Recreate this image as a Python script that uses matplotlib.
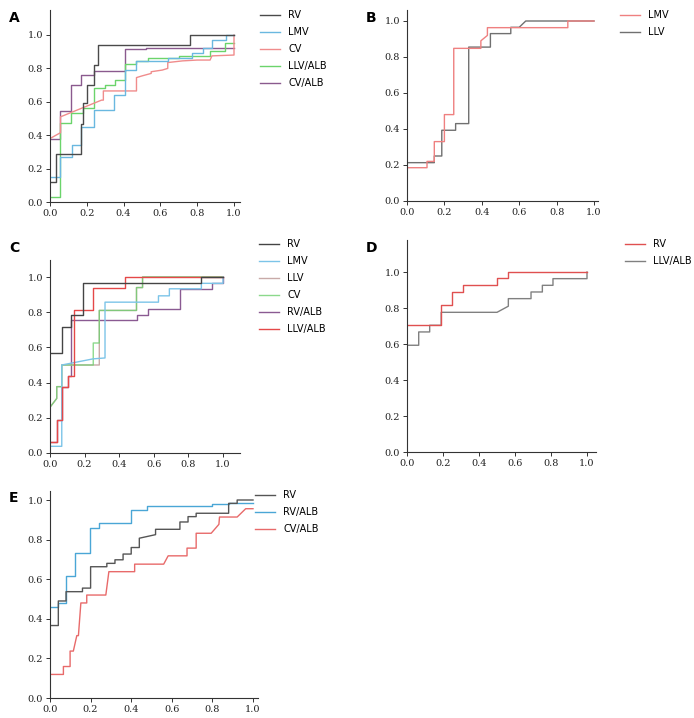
import matplotlib
matplotlib.use("Agg")
import matplotlib.pyplot as plt
import matplotlib.ticker as mtick

# ---- panel A ----
a_rv_x = [0, 0.03, 0.03, 0.17, 0.17, 0.18, 0.18, 0.20, 0.20, 0.24, 0.24, 0.26, 0.26, 0.76, 0.76, 1.0]
a_rv_y = [0.12, 0.12, 0.29, 0.29, 0.47, 0.47, 0.59, 0.59, 0.70, 0.70, 0.82, 0.82, 0.94, 0.94, 1.0, 1.0]
a_lmv_x = [0, 0.057, 0.057, 0.12, 0.12, 0.17, 0.17, 0.24, 0.24, 0.35, 0.35, 0.41, 0.41, 0.47, 0.47,
           0.64, 0.64, 0.77, 0.77, 0.83, 0.83, 0.88, 0.88, 0.955, 0.955, 1.0]
a_lmv_y = [0.15, 0.15, 0.27, 0.27, 0.34, 0.34, 0.45, 0.45, 0.55, 0.55, 0.64, 0.64, 0.79, 0.79, 0.845,
           0.845, 0.86, 0.86, 0.89, 0.89, 0.92, 0.92, 0.97, 0.97, 1.0, 1.0]
a_cv_x = [0, 0.057, 0.057, 0.28, 0.29, 0.29, 0.47, 0.47, 0.50, 0.55, 0.55, 0.61, 0.64, 0.64, 0.72,
          0.80, 0.87, 0.88, 1.0, 1.0]
a_cv_y = [0.38, 0.415, 0.51, 0.61, 0.61, 0.665, 0.665, 0.745, 0.755, 0.77, 0.78, 0.79, 0.80, 0.835,
          0.845, 0.85, 0.85, 0.875, 0.88, 1.0]
a_llvalb_x = [0, 0.057, 0.057, 0.115, 0.115, 0.18, 0.18, 0.24, 0.24, 0.30, 0.30, 0.355, 0.355, 0.41,
              0.41, 0.47, 0.47, 0.535, 0.535, 0.70, 0.70, 0.87, 0.87, 0.95, 0.95, 1.0]
a_llvalb_y = [0.03, 0.03, 0.475, 0.475, 0.535, 0.535, 0.565, 0.565, 0.685, 0.685, 0.70, 0.70, 0.73,
              0.73, 0.825, 0.825, 0.845, 0.845, 0.86, 0.86, 0.875, 0.875, 0.905, 0.905, 0.955, 0.955]
a_cvalb_x = [0, 0.057, 0.057, 0.115, 0.115, 0.17, 0.17, 0.24, 0.24, 0.41, 0.41, 0.52, 0.52, 1.0]
a_cvalb_y = [0.38, 0.38, 0.545, 0.545, 0.70, 0.70, 0.76, 0.76, 0.785, 0.785, 0.915, 0.915, 0.925, 0.925]

# ---- panel B ----
b_lmv_x = [0, 0.107, 0.107, 0.146, 0.146, 0.20, 0.20, 0.25, 0.25, 0.395, 0.395, 0.43, 0.43, 0.86, 0.86, 1.0]
b_lmv_y = [0.185, 0.185, 0.22, 0.22, 0.33, 0.33, 0.48, 0.48, 0.848, 0.848, 0.89, 0.92, 0.963, 0.963, 1.0, 1.0]
b_llv_x = [0, 0.146, 0.146, 0.186, 0.186, 0.26, 0.26, 0.33, 0.33, 0.446, 0.446, 0.555, 0.555, 0.60, 0.635, 1.0]
b_llv_y = [0.213, 0.213, 0.25, 0.25, 0.393, 0.393, 0.43, 0.43, 0.855, 0.855, 0.93, 0.93, 0.965, 0.965, 1.0, 1.0]

# ---- panel C ----
c_rv_x = [0, 0.068, 0.068, 0.12, 0.12, 0.193, 0.193, 0.875, 0.875, 1.0]
c_rv_y = [0.57, 0.57, 0.714, 0.714, 0.786, 0.786, 0.964, 0.964, 1.0, 1.0]
c_lmv_x = [0, 0.068, 0.068, 0.25, 0.318, 0.318, 0.627, 0.627, 0.69, 0.69, 0.875, 0.875, 1.0, 1.0]
c_lmv_y = [0.038, 0.038, 0.50, 0.535, 0.54, 0.857, 0.857, 0.893, 0.893, 0.933, 0.933, 0.964, 0.964, 1.0]
c_llv_x = [0, 0.039, 0.039, 0.068, 0.068, 0.285, 0.285, 0.50, 0.50, 0.535, 0.535, 1.0]
c_llv_y = [0.26, 0.31, 0.377, 0.377, 0.50, 0.50, 0.81, 0.81, 0.94, 0.94, 1.0, 1.0]
c_cv_x = [0, 0.039, 0.039, 0.068, 0.068, 0.25, 0.25, 0.285, 0.285, 0.50, 0.50, 0.535, 0.535, 1.0]
c_cv_y = [0.26, 0.31, 0.377, 0.377, 0.50, 0.50, 0.625, 0.625, 0.81, 0.81, 0.94, 0.94, 1.0, 1.0]
c_rvalb_x = [0, 0.039, 0.039, 0.068, 0.068, 0.106, 0.106, 0.12, 0.12, 0.50, 0.50, 0.566, 0.566,
             0.749, 0.749, 0.936, 0.936, 1.0, 1.0]
c_rvalb_y = [0.06, 0.06, 0.19, 0.19, 0.377, 0.377, 0.44, 0.44, 0.756, 0.756, 0.786, 0.786, 0.82,
             0.82, 0.933, 0.933, 0.964, 0.964, 1.0]
c_llvalb_x = [0, 0.039, 0.039, 0.068, 0.068, 0.106, 0.106, 0.141, 0.141, 0.25, 0.25, 0.434, 0.434, 1.0]
c_llvalb_y = [0.063, 0.063, 0.19, 0.19, 0.377, 0.377, 0.44, 0.44, 0.81, 0.81, 0.94, 0.94, 1.0, 1.0]

# ---- panel D ----
d_rv_x = [0, 0.19, 0.19, 0.252, 0.252, 0.311, 0.311, 0.50, 0.50, 0.563, 0.563, 1.0]
d_rv_y = [0.707, 0.707, 0.817, 0.817, 0.889, 0.889, 0.93, 0.93, 0.967, 0.967, 1.0, 1.0]
d_llvalb_x = [0, 0.065, 0.065, 0.126, 0.126, 0.19, 0.19, 0.50, 0.563, 0.563, 0.689, 0.689, 0.752,
              0.752, 0.811, 0.811, 1.0, 1.0]
d_llvalb_y = [0.593, 0.593, 0.667, 0.667, 0.704, 0.704, 0.776, 0.776, 0.81, 0.852, 0.852, 0.889,
              0.889, 0.926, 0.926, 0.963, 0.963, 1.0]

# ---- panel E ----
e_rv_x = [0, 0.041, 0.041, 0.079, 0.079, 0.16, 0.16, 0.20, 0.20, 0.28, 0.28, 0.32, 0.32, 0.36, 0.36,
          0.40, 0.40, 0.44, 0.44, 0.52, 0.52, 0.64, 0.64, 0.68, 0.68, 0.72, 0.72, 0.88, 0.88, 0.922, 0.922, 1.0]
e_rv_y = [0.366, 0.366, 0.49, 0.49, 0.537, 0.537, 0.555, 0.555, 0.663, 0.663, 0.68, 0.68, 0.698, 0.698,
          0.727, 0.727, 0.76, 0.76, 0.807, 0.825, 0.852, 0.852, 0.889, 0.889, 0.916, 0.916, 0.933, 0.933,
          0.983, 0.983, 1.0, 1.0]
e_rvalb_x = [0, 0.041, 0.041, 0.079, 0.079, 0.124, 0.124, 0.198, 0.198, 0.242, 0.242, 0.40, 0.40,
             0.478, 0.478, 0.80, 0.80, 0.88, 0.88, 1.0]
e_rvalb_y = [0.458, 0.458, 0.478, 0.478, 0.617, 0.617, 0.73, 0.73, 0.86, 0.86, 0.886, 0.886, 0.95,
             0.95, 0.97, 0.97, 0.978, 0.978, 0.985, 0.985]
e_cvalb_x = [0, 0, 0.066, 0.066, 0.099, 0.099, 0.115, 0.132, 0.14, 0.152, 0.181, 0.181, 0.275, 0.29,
             0.417, 0.417, 0.56, 0.582, 0.675, 0.675, 0.72, 0.72, 0.794, 0.832, 0.835, 0.922, 0.964, 1.0]
e_cvalb_y = [0, 0.119, 0.119, 0.159, 0.159, 0.237, 0.237, 0.315, 0.315, 0.48, 0.48, 0.52, 0.52, 0.638,
             0.638, 0.676, 0.676, 0.718, 0.718, 0.757, 0.757, 0.832, 0.832, 0.877, 0.914, 0.914, 0.956, 0.956]

W, H = 694, 718
fig = plt.figure(figsize=(W / 100, H / 100), dpi=100)


def make_ax(left, top, right, bottom, xmax, ymax):
    # pixel box -> figure fractions
    ax = fig.add_axes([left / W, 1 - bottom / H, (right - left) / W, (bottom - top) / H])
    ax.set_xlim(0, xmax)
    ax.set_ylim(0, ymax)
    for s in ["top", "right"]:
        ax.spines[s].set_visible(False)
    for s in ["left", "bottom"]:
        ax.spines[s].set_color("#333333")
        ax.spines[s].set_linewidth(0.8)
        ax.spines[s].set_zorder(5)
    ax.set_xticks([0, 0.2, 0.4, 0.6, 0.8, 1.0])
    ax.set_yticks([0, 0.2, 0.4, 0.6, 0.8, 1.0])
    ax.xaxis.set_major_formatter(mtick.FormatStrFormatter("%.1f"))
    ax.yaxis.set_major_formatter(mtick.FormatStrFormatter("%.1f"))
    ax.tick_params(length=3, width=0.7, color="#333333", labelsize=7, pad=2, labelcolor="#222222")
    for lab in ax.get_xticklabels() + ax.get_yticklabels():
        lab.set_family("DejaVu Serif")
    return ax


def add_legend(ax, x, top, order=None):
    h, l = ax.get_legend_handles_labels()
    if order is not None:
        h = [h[i] for i in order]
        l = [l[i] for i in order]
    ax.legend(h, l, loc="upper left", bbox_to_anchor=(x / W, 1 - top / H), bbox_transform=fig.transFigure,
              frameon=False, fontsize=7, handlelength=2.1, handletextpad=0.8, labelspacing=0.72,
              borderpad=0, borderaxespad=0)


def panel_label(txt, x, y):
    fig.text(x / W, 1 - y / H, txt, fontsize=10, fontweight="bold", va="center", ha="left")


lw = 1.0

# A
ax = make_ax(50, 10, 240, 202, 190 / 184, 192 / 167)
ax.plot(a_cvalb_x, a_cvalb_y, color="#8a5a8e", lw=lw, label="CV/ALB", zorder=2)
ax.plot(a_llvalb_x, a_llvalb_y, color="#6bd46b", lw=lw, label="LLV/ALB", zorder=2)
ax.plot(a_cv_x, a_cv_y, color="#f08c8c", lw=lw, label="CV", zorder=2)
ax.plot(a_lmv_x, a_lmv_y, color="#6ab8e0", lw=lw, label="LMV", zorder=2)
ax.plot(a_rv_x, a_rv_y, color="#4a4a4a", lw=lw, label="RV", zorder=3)
add_legend(ax, 260, 10, order=[4, 3, 2, 1, 0])
panel_label("A", 9, 18)

# B
ax = make_ax(407, 10, 598, 201, 191 / 187, 191 / 180)
ax.plot(b_llv_x, b_llv_y, color="#707070", lw=lw, label="LLV", zorder=2)
ax.plot(b_lmv_x, b_lmv_y, color="#ef8080", lw=lw, label="LMV", zorder=3)
add_legend(ax, 620, 10, order=[1, 0])
panel_label("B", 366, 18)

# C
ax = make_ax(50, 260, 240, 453, 190 / 173, 193 / 176)
ax.plot(c_rv_x, c_rv_y, color="#444444", lw=lw, label="RV", zorder=4)
ax.plot(c_lmv_x, c_lmv_y, color="#7cc4e8", lw=lw, label="LMV", zorder=3)
ax.plot(c_llv_x, c_llv_y, color="#c8aaa8", lw=lw, label="LLV", zorder=2)
ax.plot(c_cv_x, c_cv_y, color="#70d070", lw=lw, label="CV", zorder=2, alpha=0.8)
ax.plot(c_rvalb_x, c_rvalb_y, color="#8a5a92", lw=lw, label="RV/ALB", zorder=1)
ax.plot(c_llvalb_x, c_llvalb_y, color="#e54848", lw=lw, label="LLV/ALB", zorder=3)
add_legend(ax, 259, 239)
panel_label("C", 9, 248)

# D
ax = make_ax(407, 240, 596, 452, 189 / 180, 212 / 180)
ax.plot(d_rv_x, d_rv_y, color="#e05050", lw=lw, label="RV", zorder=3)
ax.plot(d_llvalb_x, d_llvalb_y, color="#808080", lw=lw, label="LLV/ALB", zorder=2)
add_legend(ax, 625, 239)
panel_label("D", 366, 248)

# E
ax = make_ax(50, 491, 258, 698, 208 / 203, 207 / 198)
ax.plot(e_rv_x, e_rv_y, color="#555555", lw=lw, label="RV", zorder=3)
ax.plot(e_rvalb_x, e_rvalb_y, color="#4aa6d6", lw=lw, label="RV/ALB", zorder=2)
ax.plot(e_cvalb_x, e_cvalb_y, color="#e86a6a", lw=lw, label="CV/ALB", zorder=2)
add_legend(ax, 255, 490)
panel_label("E", 9, 498)

fig.savefig("out.png", dpi=100)
